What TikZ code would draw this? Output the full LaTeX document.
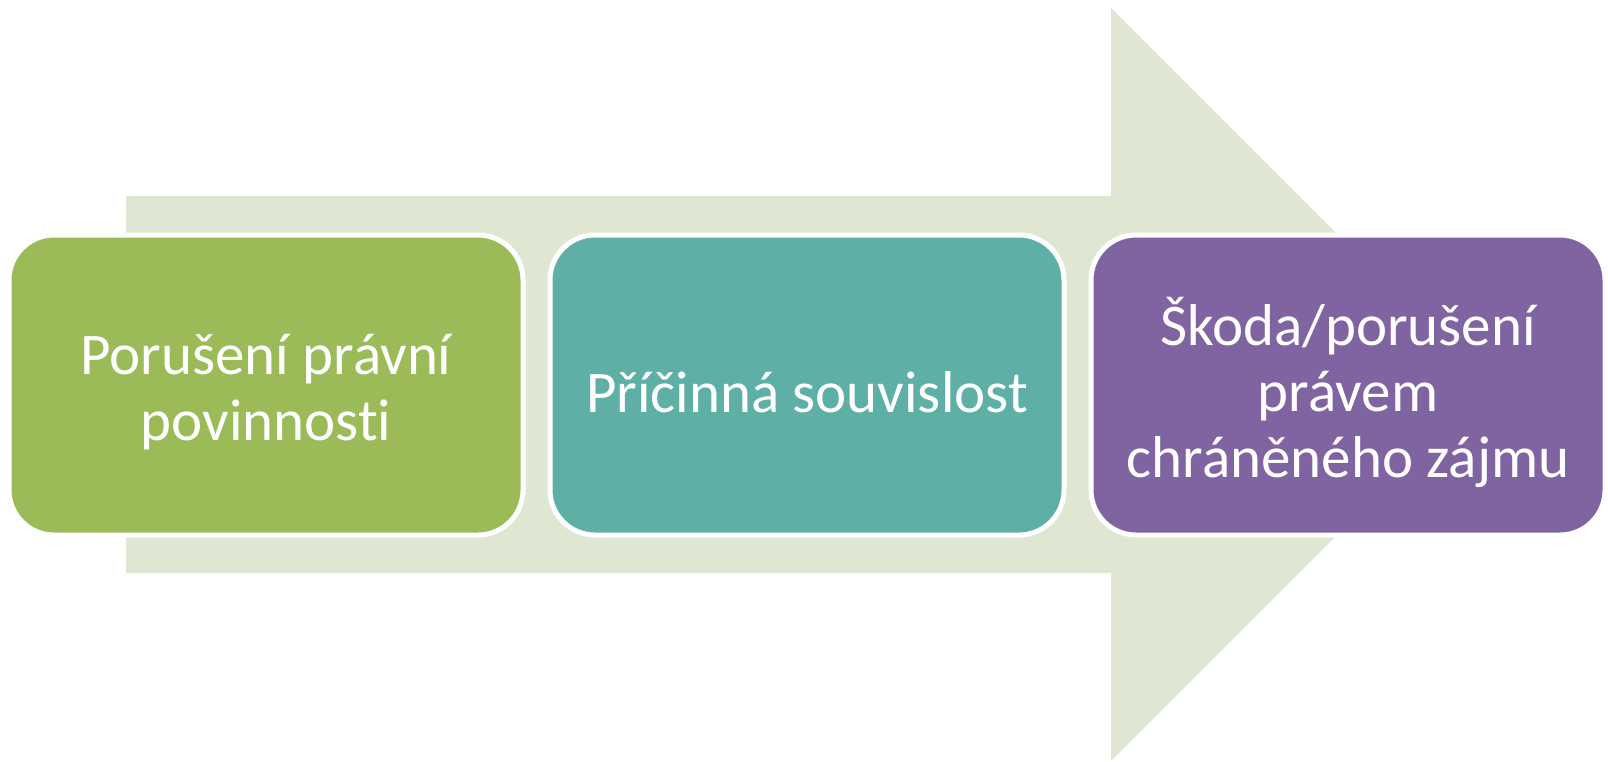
\documentclass[tikz,border=0pt]{standalone}
\usepackage{fontspec}
\setmainfont[Ligatures={NoCommon}]{Carlito}
\definecolor{arrowbg}{HTML}{DFE6D2}
\definecolor{boxgreen}{HTML}{9BBB59}
\definecolor{boxteal}{HTML}{5EAFA6}
\definecolor{boxpurple}{HTML}{8064A2}
\begin{document}
\begin{tikzpicture}[x=1pt,y=-1pt,
  stepbox/.style={draw=white, line width=5pt, rounded corners=45pt,
    minimum width=514pt, minimum height=300pt, inner sep=0pt},
  steptext/.style={text=white, align=center, inner sep=0pt,
    font=\fontsize{59}{66}\selectfont}]
\useasboundingbox (0,0) rectangle (1608,761);
% big background arrow
\fill[arrowbg] (126,196) -- (1111,196) -- (1111,8) -- (1487.5,384.5)
  -- (1111,761) -- (1111,573) -- (126,573) -- cycle;
\node[stepbox, fill=boxgreen] (b1) at (266,385) {};
\node[stepbox, fill=boxteal] (b2) at (807,385) {};
\node[stepbox, fill=boxpurple] (b3) at (1348,385) {};
\node[steptext] (t1) at ([yshift=-7pt]b1.center) {Porušení právní\\povinnosti};
\node[steptext] (t2) at ([yshift=-7pt]b2.center) {Příčinná souvislost};
\node[steptext] (t3) at ([yshift=-7pt]b3.center) {Škoda/porušení\\právem\\chráněného zájmu};
\end{tikzpicture}
\end{document}
